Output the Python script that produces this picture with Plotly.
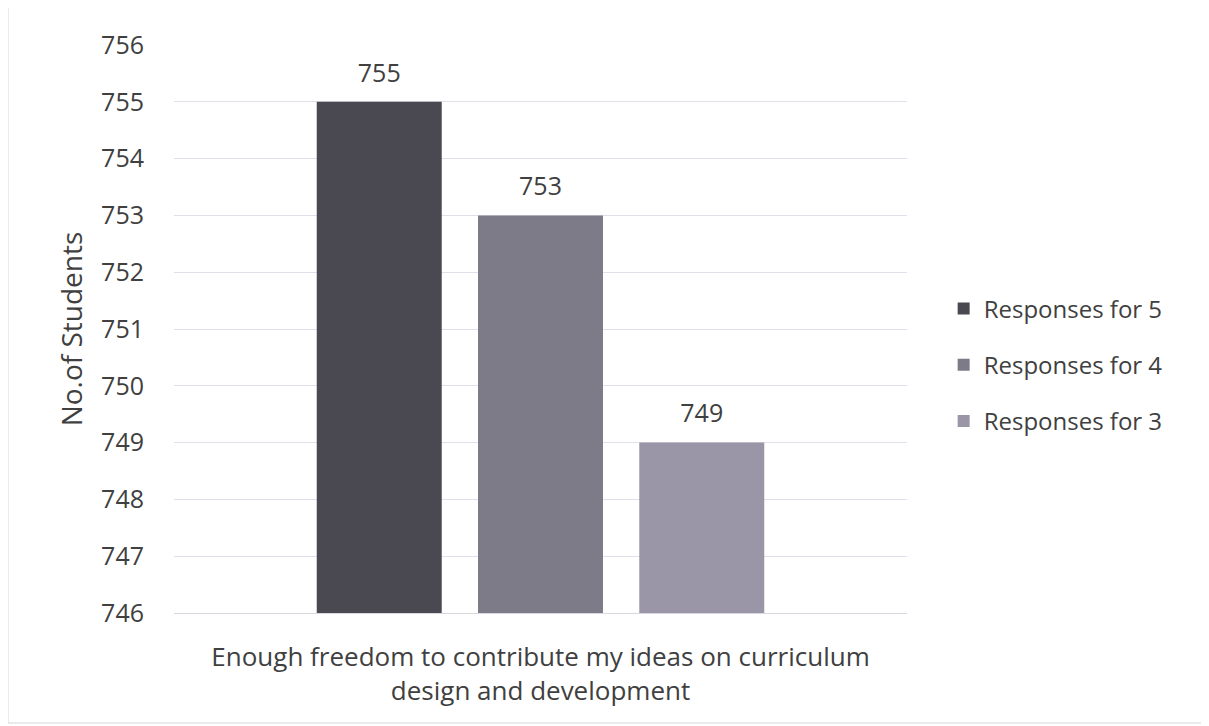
import plotly.graph_objects as go

categories = ["Enough freedom to contribute my ideas on curriculum<br>design and development"]
series_names = ["Responses for 5", "Responses for 4", "Responses for 3"]
series_values = [[755], [753], [749]]
colors = ["#4a4851", "#7e7b88", "#9a96a7"]
y_ticks = [746, 747, 748, 749, 750, 751, 752, 753, 754, 755, 756]

FONT = "'Open Sans', sans-serif"
TXT = "#404040"

fig = go.Figure()
for name, vals, col in zip(series_names, series_values, colors):
    fig.add_trace(go.Bar(
        x=categories, y=vals, name=name, marker_color=col,
        marker_line_width=0,
        text=[f"<span style='font-size:25px'>{v}</span><br>&nbsp;" for v in vals],
        textposition="outside",
        textfont=dict(size=11, color=TXT, family=FONT),
        cliponaxis=False, legendgroup=name,
        hovertemplate="%{y}<extra>" + name + "</extra>",
    ))

L, T, PW, PH = 166, 37, 733, 568
fig.update_layout(
    width=1209, height=726,
    margin=dict(l=L, r=1209 - L - PW, t=T, b=726 - T - PH),
    paper_bgcolor="white", plot_bgcolor="white",
    barmode="group", bargap=0.34, bargroupgap=0.225,
    font=dict(family=FONT, color=TXT),
    showlegend=True,
    legend=dict(x=1.05, xanchor="left", y=0.4366, yanchor="middle",
                traceorder="grouped", tracegroupgap=22,
                font=dict(size=24, color=TXT, family=FONT)),
    yaxis=dict(range=[746, 756], tickvals=y_ticks, showgrid=True,
               gridcolor="#e0e0ea", gridwidth=1, zeroline=False,
               tickfont=dict(size=25, color=TXT), ticks="",
               ticklabelstandoff=29,
               title=dict(text="No.of Students", font=dict(size=28, color=TXT),
                          standoff=10)),
    xaxis=dict(showline=True, linecolor="#d8d8e2", linewidth=1,
               tickfont=dict(size=26, color=TXT), ticks="",
               ticklabelstandoff=21),
)
fig.add_shape(type="rect", xref="paper", yref="paper",
              x0=(0 - L) / PW, x1=(1197 - L) / PW,
              y0=-(715 - T - PH) / PH, y1=1 + (T + 1) / PH,
              line=dict(color="#d6d6de", width=1))

fig.write_html("out.html")
